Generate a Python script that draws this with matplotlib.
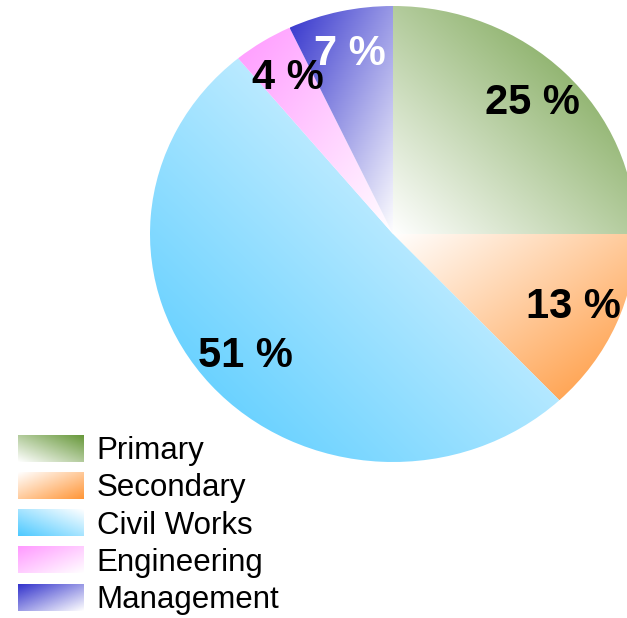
import numpy as np
import matplotlib
matplotlib.use("Agg")
import matplotlib.pyplot as plt
from matplotlib.colors import to_rgb
from matplotlib.legend_handler import HandlerBase
from matplotlib.image import BboxImage
from matplotlib.transforms import Bbox, TransformedBbox
from matplotlib.patches import Patch

# Budget split by work type (percent)
categories = ["Primary", "Secondary", "Civil Works", "Engineering", "Management"]
shares = [25, 13, 51, 4, 7]
colors = ["#67983a", "#ff9638", "#4dc9ff", "#ff99ff", "#3333cc"]
label_colors = ["black", "black", "black", "black", "white"]

plt.rcParams["font.family"] = ["Liberation Sans", "DejaVu Sans"]

W, H = 627, 618
fig = plt.figure(figsize=(W / 100, H / 100), dpi=100)

# The pie is stretched slightly wider than tall
cx, cy, rx, ry = 393, 234, 243, 228
ax = fig.add_axes([(cx - rx) / W, (H - cy - ry) / H, 2 * rx / W, 2 * ry / H])


def gradient(color, sx, sy, n=256):
    """White-to-colour ramp running toward the (sx, sy) corner."""
    u = np.linspace(0, 1, n)
    U, V = np.meshgrid(u, u)
    a = U if sx > 0 else 1 - U
    b = V if sy > 0 else 1 - V
    t = ((a + b) / 2)[..., None]
    c = np.array(to_rgb(color))
    return 1 - t * (1 - c)


wedges, _, autotexts = ax.pie(
    shares, startangle=90, counterclock=False,
    autopct="%.0f %%", pctdistance=0.81,
    wedgeprops=dict(linewidth=0),
    textprops=dict(fontsize=30, fontweight="bold"),
)

for w, col, lc, txt in zip(wedges, colors, label_colors, autotexts):
    w.set_facecolor("none")
    verts = w.get_patch_transform().transform(w.get_path().vertices)
    x0, y0 = verts.min(axis=0)
    x1, y1 = verts.max(axis=0)
    mid = np.deg2rad((w.theta1 + w.theta2) / 2)
    sx, sy = np.sign(np.cos(mid)), np.sign(np.sin(mid))
    im = ax.imshow(gradient(col, sx, sy), extent=[x0, x1, y0, y1],
                   origin="lower", interpolation="bilinear", aspect="auto",
                   zorder=0.5)
    im.set_clip_path(w)
    txt.set_color(lc)
    txt.set_zorder(3)

ax.set_aspect("auto")
ax.set_xlim(-1, 1)
ax.set_ylim(-1, 1)
ax.axis("off")


class GradientSwatch(HandlerBase):
    def __init__(self, rgb):
        super().__init__()
        self.rgb = rgb

    def create_artists(self, legend, orig_handle, xdescent, ydescent,
                       width, height, fontsize, trans):
        bb = Bbox.from_bounds(-xdescent, -ydescent, width, height)
        img = BboxImage(TransformedBbox(bb, trans), interpolation="bilinear",
                        origin="lower")
        img.set_data(self.rgb)
        return [img]


handles = [Patch(label=c) for c in categories]
handler_map = {}
for h, w, col in zip(handles, wedges, colors):
    mid = np.deg2rad((w.theta1 + w.theta2) / 2)
    handler_map[h] = GradientSwatch(
        gradient(col, np.sign(np.cos(mid)), np.sign(np.sin(mid)), n=64))

fig.legend(handles, categories, handler_map=handler_map,
           loc="upper left", bbox_to_anchor=(18 / W, (H - 435) / H),
           frameon=False, borderpad=0, borderaxespad=0, fontsize=22.5,
           handlelength=2.1, handleheight=0.93, handletextpad=0.42,
           labelspacing=0.2)

fig.savefig("out.png", dpi=100)
